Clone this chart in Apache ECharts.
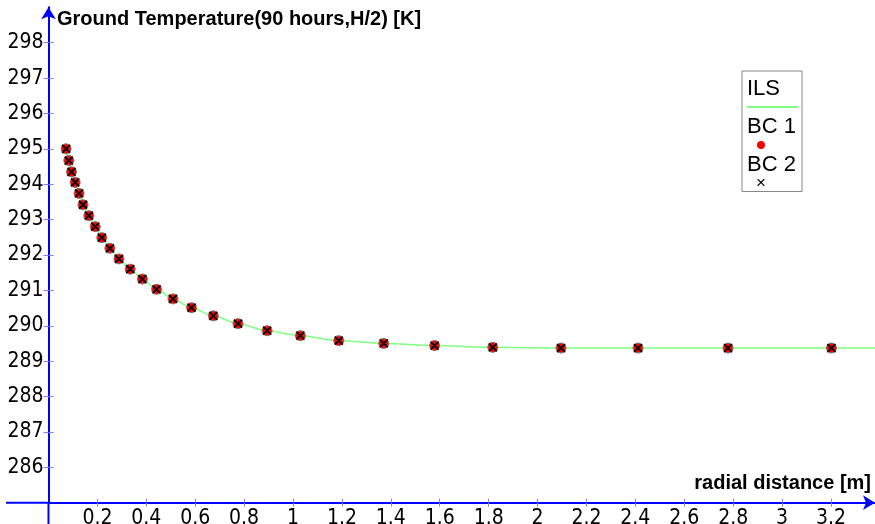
<!DOCTYPE html>
<html>
<head>
<meta charset="utf-8">
<script src="https://cdn.jsdelivr.net/npm/echarts@6/dist/echarts.min.js"></script>
<style>
  html, body { margin: 0; padding: 0; background: #fff; }
  #chart { width: 875px; height: 524px; }
</style>
</head>
<body>
<div id="chart"></div>
<script>
// Radial distance from the borehole [m]
const radius = [0.072, 0.083, 0.094, 0.109, 0.125, 0.141, 0.165, 0.191, 0.218, 0.251,
  0.288, 0.334, 0.384, 0.442, 0.509, 0.585, 0.674, 0.775, 0.894, 1.030,
  1.187, 1.371, 1.579, 1.817, 2.096, 2.411, 2.779, 3.202];
// Ground temperature at H/2 after 90 hours [K], boundary condition 1
const bc1 = [295.00, 294.67, 294.35, 294.05, 293.74, 293.42, 293.11, 292.80, 292.49, 292.19,
  291.89, 291.60, 291.32, 291.03, 290.76, 290.51, 290.28, 290.06, 289.86, 289.72,
  289.58, 289.50, 289.44, 289.39, 289.37, 289.37, 289.37, 289.37];
// Boundary condition 2
const bc2 = [295.00, 294.67, 294.35, 294.05, 293.74, 293.42, 293.11, 292.80, 292.49, 292.19,
  291.89, 291.60, 291.32, 291.03, 290.76, 290.51, 290.28, 290.06, 289.86, 289.72,
  289.58, 289.50, 289.44, 289.39, 289.37, 289.37, 289.37, 289.37];
// Infinite line source solution
const ilsRadius = [0.072, 0.083, 0.094, 0.109, 0.125, 0.141, 0.165, 0.191, 0.218, 0.251,
  0.288, 0.334, 0.384, 0.442, 0.509, 0.585, 0.674, 0.775, 0.894, 1.030,
  1.187, 1.371, 1.579, 1.817, 2.096, 2.411, 2.779, 3.202, 3.38];
const ils = [295.00, 294.67, 294.35, 294.05, 293.74, 293.42, 293.11, 292.80, 292.49, 292.19,
  291.89, 291.60, 291.32, 291.03, 290.76, 290.51, 290.28, 290.06, 289.86, 289.72,
  289.58, 289.50, 289.44, 289.39, 289.37, 289.37, 289.37, 289.37, 289.37];

// Tick labels
const xTicks = [0.2, 0.4, 0.6, 0.8, 1, 1.2, 1.4, 1.6, 1.8, 2, 2.2, 2.4, 2.6, 2.8, 3, 3.2];
const yTicks = [286, 287, 288, 289, 290, 291, 292, 293, 294, 295, 296, 297, 298];

const AXIS_BLUE = '#0000ff';
const TICK_BLUE = '#7f7fff';
const LABEL_FONT = '"Liberation Sans Narrow", "Arial Narrow", "DejaVu Sans Condensed", sans-serif';
const MAIN_FONT = '"Liberation Sans", Arial, sans-serif';
const X_MARK = 'path://M0,0L10,10M10,0L0,10';

const zip = (xs, ys) => xs.map((x, i) => [x, ys[i]]);

const chart = echarts.init(document.getElementById('chart'), null, { renderer: 'canvas' });

const legendText = {
  'ILS': '{t|ILS}\n{ln|}',
  'BC 1': '{t|BC 1}\n{sp|}{dot|}',
  'BC 2': '{t|BC 2}\n{sp2|}{cross|×}'
};

const option = {
  animation: false,
  backgroundColor: '#ffffff',
  title: {
    text: 'Ground Temperature(90 hours,H/2) [K]',
    left: 57,
    top: 9,
    padding: 0,
    textStyle: { fontFamily: MAIN_FONT, fontSize: 20, fontWeight: 'bold', color: '#000' }
  },
  grid: { left: 48.5, right: 0, top: 7.3, bottom: 21.3, containLabel: false, outerBoundsMode: 'none' },
  legend: {
    orient: 'vertical',
    left: 742,
    top: 71,
    padding: [7, 4, 0, 0],
    itemGap: 3,
    itemWidth: 0,
    itemHeight: 0,
    icon: 'none',
    borderColor: '#888',
    borderWidth: 1,
    data: ['ILS', 'BC 1', 'BC 2'],
    formatter: name => legendText[name],
    textStyle: {
      fontFamily: MAIN_FONT,
      color: '#000',
      rich: {
        t: { fontSize: 22, lineHeight: 24, fontFamily: MAIN_FONT, color: '#000' },
        ln: { width: 51, height: 2, lineHeight: 12, backgroundColor: '#80ff80' },
        sp: { width: 10, height: 1, lineHeight: 12 },
        dot: { width: 8, height: 8, lineHeight: 12, borderRadius: 4, backgroundColor: '#ff0000' },
        sp2: { width: 9, height: 1, lineHeight: 12 },
        cross: { fontSize: 17, lineHeight: 12, color: '#000', fontFamily: MAIN_FONT }
      }
    }
  },
  xAxis: [{
    type: 'value',
    position: 'bottom',
    min: 0,
    max: 3.38,
    name: 'radial distance [m]',
    nameLocation: 'end',
    nameGap: -4,
    nameTextStyle: {
      fontFamily: MAIN_FONT, fontSize: 20, fontWeight: 'bold', color: '#000',
      align: 'right', verticalAlign: 'bottom', padding: [0, 0, 9, 0]
    },
    axisLine: {
      show: true, onZero: false,
      lineStyle: { color: AXIS_BLUE, width: 2 },
      symbol: ['none', 'arrow'], symbolSize: [11, 12]
    },
    axisTick: { show: true, length: 4, lineStyle: { color: TICK_BLUE, width: 1 }, customValues: xTicks },
    axisLabel: {
      show: true, margin: 5, fontFamily: LABEL_FONT, fontSize: 21, color: '#000',
      customValues: xTicks, formatter: v => String(v)
    },
    splitLine: { show: false }
  }, {
    // inner half of the crossing tick marks
    type: 'value',
    position: 'bottom',
    min: 0,
    max: 3.38,
    axisLine: { show: false, onZero: false },
    axisTick: { show: true, inside: true, length: 4, lineStyle: { color: TICK_BLUE, width: 1 }, customValues: xTicks },
    axisLabel: { show: false },
    splitLine: { show: false }
  }],
  yAxis: [{
    type: 'value',
    position: 'left',
    min: 285,
    max: 299,
    axisLine: {
      show: true, onZero: false,
      lineStyle: { color: AXIS_BLUE, width: 2 },
      symbol: ['none', 'arrow'], symbolSize: [11, 12]
    },
    axisTick: { show: true, length: 5, lineStyle: { color: TICK_BLUE, width: 1 }, customValues: yTicks },
    axisLabel: {
      show: true, margin: 5, fontFamily: LABEL_FONT, fontSize: 21, color: '#000',
      customValues: yTicks
    },
    splitLine: { show: false }
  }, {
    type: 'value',
    position: 'left',
    min: 285,
    max: 299,
    axisLine: { show: false, onZero: false },
    axisTick: { show: true, inside: true, length: 5, lineStyle: { color: TICK_BLUE, width: 1 }, customValues: yTicks },
    axisLabel: { show: false },
    splitLine: { show: false }
  }],
  series: [{
    name: 'ILS',
    type: 'line',
    data: zip(ilsRadius, ils),
    smooth: 0.3,
    smoothMonotone: 'x',
    showSymbol: false,
    lineStyle: { color: '#80ff80', width: 1.5 },
    itemStyle: { color: '#80ff80' },
    z: 2
  }, {
    name: 'BC 1',
    type: 'scatter',
    data: zip(radius, bc1),
    symbol: 'circle',
    symbolSize: 10,
    itemStyle: { color: '#ff0000', borderColor: '#777', borderWidth: 1, opacity: 1 },
    z: 3
  }, {
    name: 'BC 2',
    type: 'scatter',
    data: zip(radius, bc2),
    symbol: X_MARK,
    symbolSize: 8,
    itemStyle: { color: 'none', borderColor: '#000', borderWidth: 1.8, opacity: 1 },
    z: 4
  }]
};

chart.setOption(option);

// The axes cross at the origin; each axis line runs on past it to the frame edge.
const origin = chart.convertToPixel({ gridIndex: 0 }, [0, 285]);
chart.setOption({
  graphic: [{
    type: 'line',
    shape: { x1: origin[0], y1: origin[1], x2: origin[0], y2: 524 },
    style: { stroke: AXIS_BLUE, lineWidth: 2 },
    silent: true
  }, {
    type: 'line',
    shape: { x1: 6, y1: origin[1], x2: origin[0], y2: origin[1] },
    style: { stroke: AXIS_BLUE, lineWidth: 2 },
    silent: true
  }]
});
</script>
</body>
</html>
